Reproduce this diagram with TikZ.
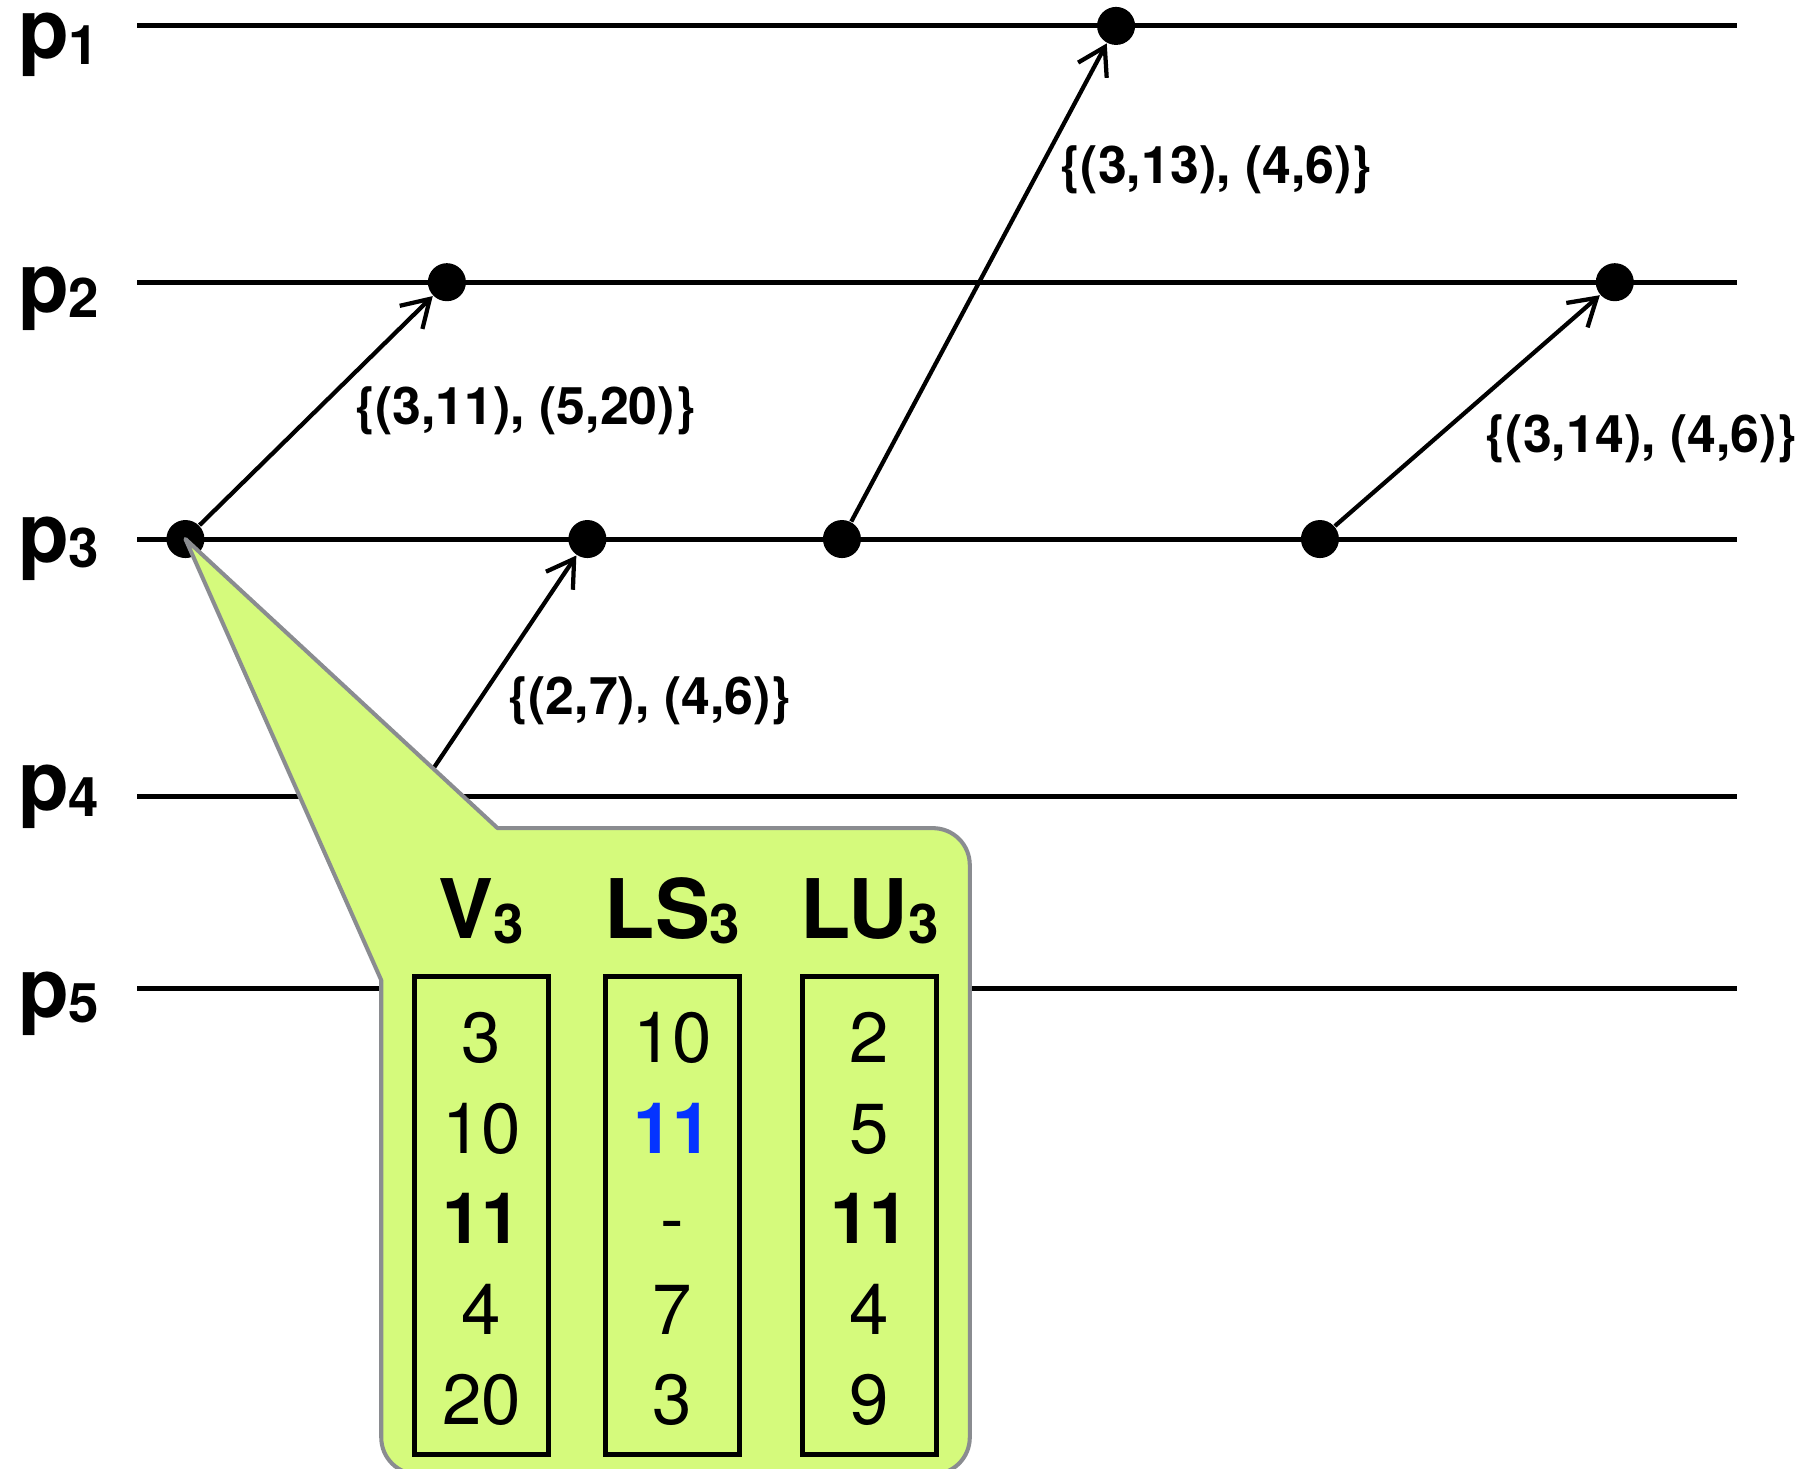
\documentclass[tikz,border=0pt]{standalone}
\usepackage{fontspec}
\setmainfont{TeX Gyre Heros}
\usetikzlibrary{arrows.meta}

\definecolor{notegreen}{RGB}{213,250,124}
\definecolor{notegray}{RGB}{138,140,144}
\definecolor{lsblue}{RGB}{4,51,255}

\newcommand{\idx}[1]{{\fontsize{13.5}{14}\selectfont\raisebox{-1.3pt}{#1}}}

\tikzset{
	timeline/.style={line width=1.25pt},
	event/.style={circle,fill=black,inner sep=0pt,minimum size=0.33cm},
	msg/.style={line width=1.05pt,-{Straight Barb[length=6.5pt,width=8pt]}},
	msglabel/.style={font=\fontsize{12.8}{14}\selectfont\bfseries,inner sep=0pt},
	proclabel/.style={font=\fontsize{20.5}{22}\selectfont\bfseries,inner sep=0pt,anchor=base west},
	callout/.style={draw=notegray,fill=notegreen,line width=1pt,line join=round},
	colhead/.style={font=\fontsize{20.3}{22}\selectfont\bfseries,inner sep=0pt,anchor=base},
	colbox/.style={draw,line width=1.2pt,minimum width=1.16cm,minimum height=4.15cm},
	colval/.style={font=\fontsize{17.5}{20}\selectfont,inner sep=0pt,anchor=base}
}

\begin{document}
\begin{tikzpicture}[x=0.01cm,y=-0.01cm]
	\useasboundingbox (0,0) rectangle (1568,1275);
	\foreach \i/\y/\b in {1/22.5/51,2/245/271,3/468/488,4/691.5/704,5/858/883}{
		\coordinate (l\i) at (119,\y);
		\coordinate (r\i) at (1508,\y);
		\draw[timeline] (l\i) -- (r\i);
		\node[proclabel] (p\i) at (15,\b) {p\idx{\i}};
	}

	\node[event] (e11) at (969,22.5) {};
	\node[event] (e21) at (388,245) {};
	\node[event] (e22) at (1402,245) {};
	\node[event] (e31) at (161,468) {};
	\node[event] (e32) at (510,468) {};
	\node[event] (e33) at (731,468) {};
	\node[event] (e34) at (1146,468) {};
	\coordinate (e41) at (360,691.5);

	\draw[msg] (e31) -- (e21);
	\draw[msg] (e41) -- (e32);
	\draw[msg] (e33) -- (e11);
	\draw[msg] (e34) -- (e22);

	\node[msglabel] (m1) at (456,357) {\{(3,11), (5,20)\}};
	\node[msglabel] (m2) at (564,608) {\{(2,7), (4,6)\}};
	\node[msglabel] (m3) at (1056,147) {\{(3,13), (4,6)\}};
	\node[msglabel] (m4) at (1425,381) {\{(3,14), (4,6)\}};

	% note attached to the first event of p3
	\draw[callout] (e31.center) -- (432,719) -- (810,719)
		.. controls (827.7,719) and (842,733.3) .. (842,751)
		-- (842,1248) .. controls (842,1265.7) and (827.7,1280) .. (810,1280)
		-- (363,1280) .. controls (345.3,1280) and (331,1265.7) .. (331,1248)
		-- (331,851) -- cycle;

	\node[colhead] (hv) at (418,815) {V\idx{3}};
	\node[colhead] (hls) at (584,815) {LS\idx{3}};
	\node[colhead] (hlu) at (755,815) {LU\idx{3}};
	\node[colbox] (bv) at (418,1055.5) {};
	\node[colbox] (bls) at (584,1055.5) {};
	\node[colbox] (blu) at (755,1055.5) {};
	\foreach \v [count=\r] in {3,10,\textbf{11},4,20}
		\node[colval] (v\r) at (418,844.3+78.5*\r) {\v};
	\foreach \v [count=\r] in {10,\textcolor{lsblue}{\textbf{11}},-,7,3}
		\node[colval] (ls\r) at (584,844.3+78.5*\r) {\v};
	\foreach \v [count=\r] in {2,5,\textbf{11},4,9}
		\node[colval] (lu\r) at (755,844.3+78.5*\r) {\v};
\end{tikzpicture}
\end{document}
